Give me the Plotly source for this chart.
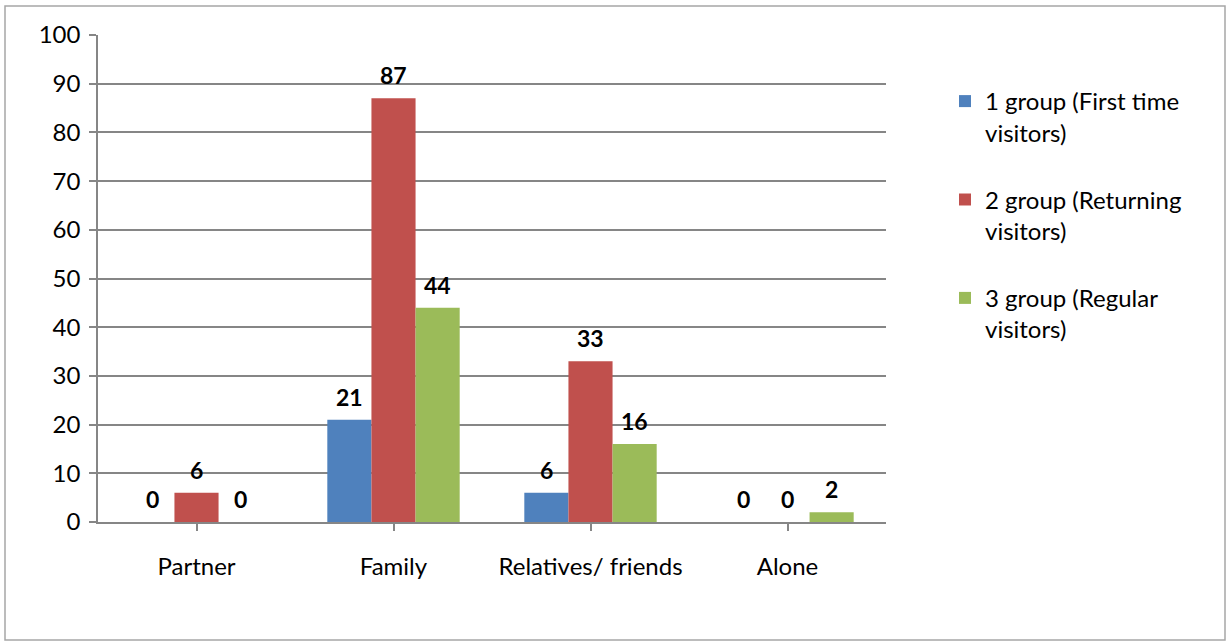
import plotly.graph_objects as go

categories = ["Partner", "Family", "Relatives/ friends", "Alone"]
series_names = ["1 group (First time<br>visitors)", "2 group (Returning<br>visitors)", "3 group (Regular<br>visitors)"]
group1 = [0, 21, 6, 0]
group2 = [6, 87, 33, 0]
group3 = [0, 44, 16, 2]
y_ticks = [0, 10, 20, 30, 40, 50, 60, 70, 80, 90, 100]

colors = ["#4f81bd", "#c0504d", "#9bbb59"]
FONT = "Lato"
FS = 24
bw = 0.224
offsets = [-1.5 * bw, -0.5 * bw, 0.5 * bw]

fig = go.Figure()
annotations = []
for i, (name, vals) in enumerate(zip(series_names, [group1, group2, group3])):
    xs = list(range(len(categories)))
    fig.add_trace(go.Bar(
        x=xs, y=vals, name=name, marker_color=colors[i], marker_line_width=0,
        width=bw, offset=offsets[i], legendgroup=f"g{i}",
    ))
    for j, v in enumerate(vals):
        annotations.append(dict(
            x=j + offsets[i] + bw / 2, y=v, xref="x", yref="y",
            text=f"<b>{v}</b>", showarrow=False, yanchor="bottom", yshift=7,
            font=dict(family=FONT, size=FS - 1, color="#000000"),
        ))

px0, px1, py0, py1 = 98, 886, 35, 522
W, H = 1228, 642
pw, ph = px1 - px0, py1 - py0

fig.update_layout(
    width=W, height=H,
    margin=dict(l=px0, r=W - px1, t=py0, b=H - py1),
    paper_bgcolor="white", plot_bgcolor="white",
    font=dict(family=FONT, size=FS, color="#000000"),
    showlegend=True,
    legend=dict(x=(945 - px0) / pw, y=(522 - 79) / ph, xanchor="left", yanchor="top",
                font=dict(family=FONT, size=FS), tracegroupgap=33, itemwidth=30,
                valign="top", bgcolor="rgba(0,0,0,0)"),
    annotations=annotations,
    xaxis=dict(
        range=[-0.5, 3.5], tickmode="array", tickvals=list(range(len(categories))),
        ticktext=categories, showgrid=False, showline=True, linecolor="#868686", linewidth=1.5,
        ticks="outside", ticklen=7, tickcolor="#868686", tickwidth=1.5,
        tickfont=dict(family=FONT, size=FS), zeroline=False, ticklabelstandoff=15,
    ),
    yaxis=dict(
        range=[0, 100], tickmode="array", tickvals=y_ticks, showgrid=True,
        gridcolor="#868686", gridwidth=1.5, showline=True, linecolor="#868686", linewidth=1.5,
        ticks="outside", ticklen=7, tickcolor="#868686", tickwidth=1.5,
        tickfont=dict(family=FONT, size=FS), zeroline=False, ticklabelstandoff=4,
    ),
    shapes=[dict(type="rect", xref="paper", yref="paper",
                 x0=(5 - px0) / pw, x1=(1225 - px0) / pw,
                 y0=(py1 - 640) / ph, y1=(py1 - 6) / ph,
                 line=dict(color="#a6a6a6", width=1.5), fillcolor="rgba(0,0,0,0)", layer="below")],
)
fig.update_xaxes(tickson="boundaries")

fig.write_html("out.html")
